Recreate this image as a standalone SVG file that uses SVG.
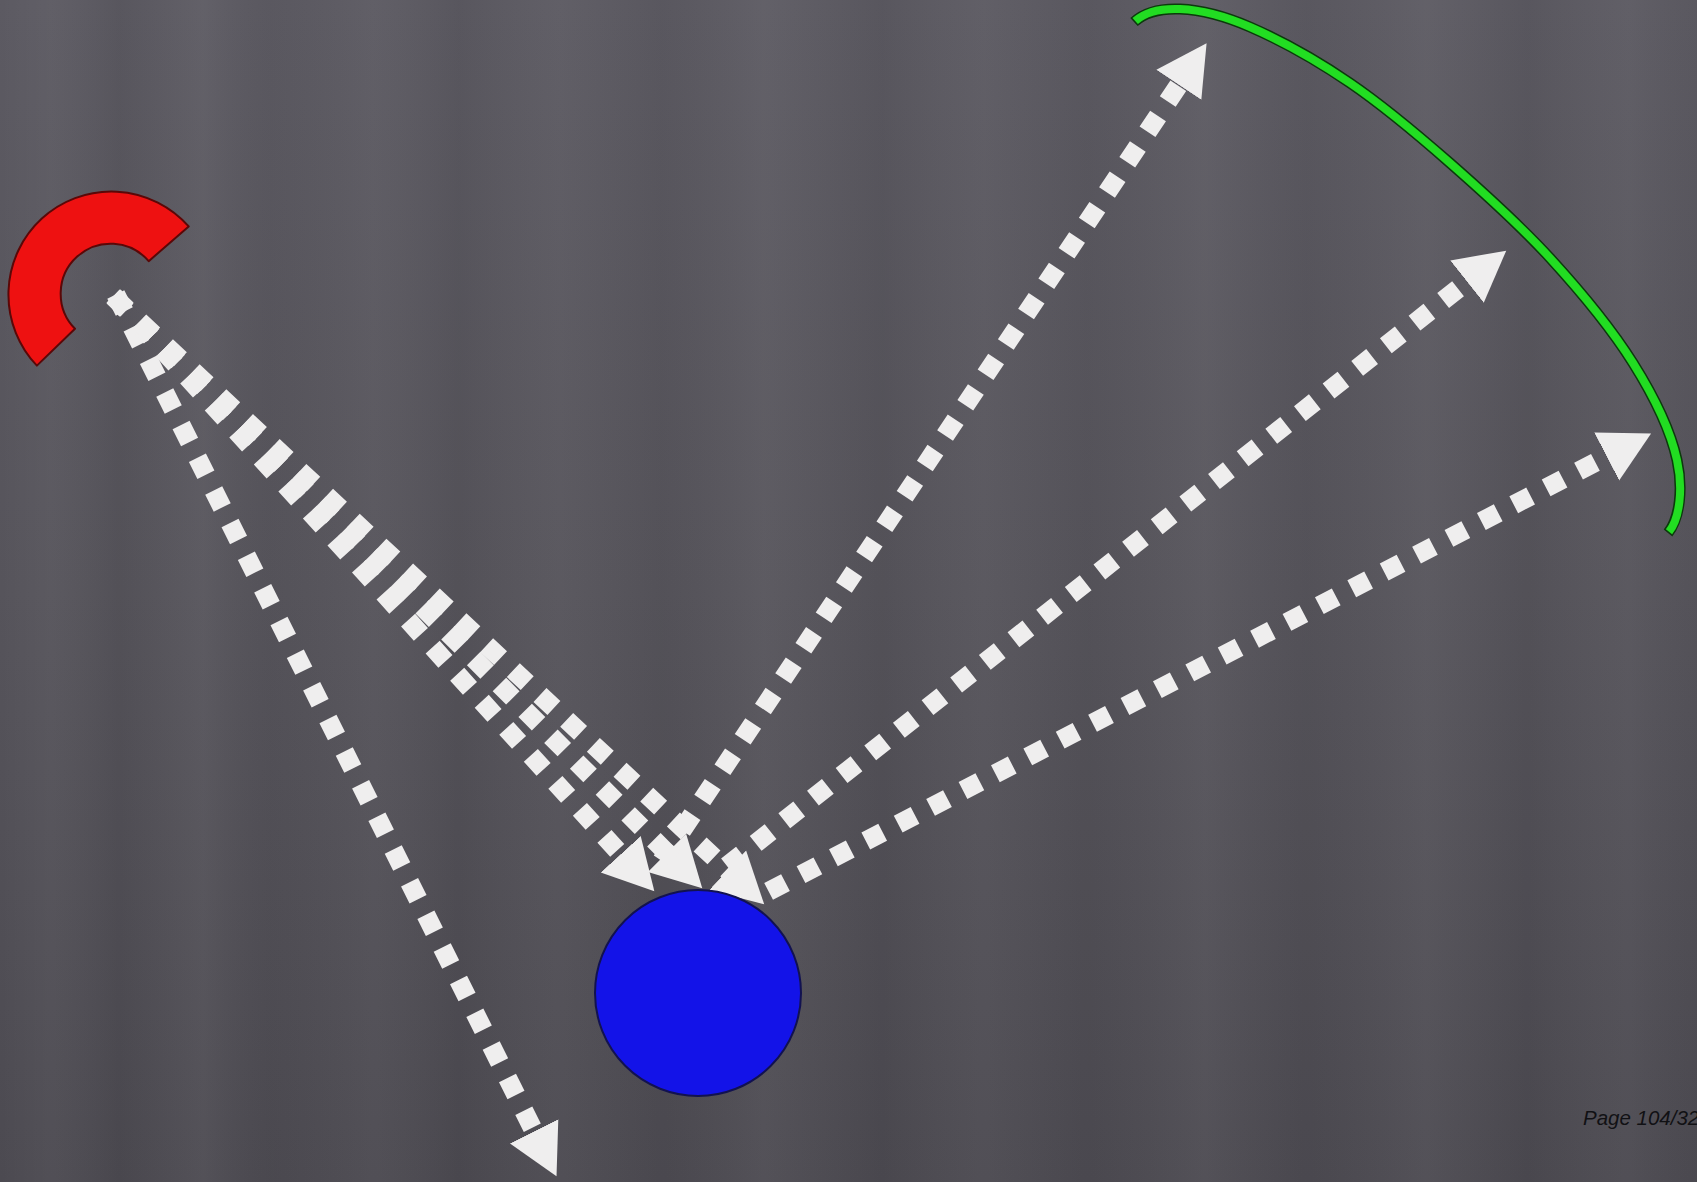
<svg xmlns="http://www.w3.org/2000/svg" width="1697" height="1182" viewBox="0 0 1697 1182">
  <defs>
    <linearGradient id="bgv" x1="0" y1="0" x2="0" y2="1">
      <stop offset="0" stop-color="#5c5a62"/>
      <stop offset="0.5" stop-color="#56545b"/>
      <stop offset="1" stop-color="#4c4a51"/>
    </linearGradient>
    <linearGradient id="streaks" x1="0" y1="0" x2="1697" y2="0" gradientUnits="userSpaceOnUse">
      <stop offset="0" stop-color="#ffffff" stop-opacity="0"/>
      <stop offset="0.03" stop-color="#ffffff" stop-opacity="0.03"/>
      <stop offset="0.07" stop-color="#000000" stop-opacity="0.04"/>
      <stop offset="0.12" stop-color="#ffffff" stop-opacity="0.04"/>
      <stop offset="0.16" stop-color="#000000" stop-opacity="0.02"/>
      <stop offset="0.22" stop-color="#ffffff" stop-opacity="0.03"/>
      <stop offset="0.27" stop-color="#000000" stop-opacity="0.04"/>
      <stop offset="0.33" stop-color="#ffffff" stop-opacity="0.03"/>
      <stop offset="0.39" stop-color="#000000" stop-opacity="0.03"/>
      <stop offset="0.45" stop-color="#ffffff" stop-opacity="0.04"/>
      <stop offset="0.52" stop-color="#000000" stop-opacity="0.04"/>
      <stop offset="0.58" stop-color="#ffffff" stop-opacity="0.03"/>
      <stop offset="0.64" stop-color="#000000" stop-opacity="0.03"/>
      <stop offset="0.71" stop-color="#ffffff" stop-opacity="0.04"/>
      <stop offset="0.77" stop-color="#000000" stop-opacity="0.03"/>
      <stop offset="0.84" stop-color="#ffffff" stop-opacity="0.04"/>
      <stop offset="0.9" stop-color="#000000" stop-opacity="0.04"/>
      <stop offset="0.96" stop-color="#ffffff" stop-opacity="0.03"/>
      <stop offset="1" stop-color="#000000" stop-opacity="0.02"/>
    </linearGradient>
    <marker id="ah" markerUnits="userSpaceOnUse" markerWidth="52" markerHeight="56" viewBox="0 0 52 56" refX="1" refY="28" orient="auto">
      <path d="M0,1 L50,28 L0,55 z" fill="#efeeee"/>
    </marker>
    <style>
      .conn { fill: none; stroke: #efeeee; stroke-width: 19; stroke-dasharray: 19 17.5; stroke-linecap: butt; marker-end: url(#ah); }
      .arc-edge { fill: none; stroke: #0c3a0c; stroke-width: 11; stroke-linecap: butt; }
      .arc-core { fill: none; stroke: #22dd22; stroke-width: 8; stroke-linecap: butt; }
      .label { font-family: "Liberation Sans", Arial, sans-serif; font-style: italic; font-size: 20.5px; fill: #111114; }
    </style>
  </defs>

  <rect x="0" y="0" width="1697" height="1182" fill="url(#bgv)"/>
  <rect x="0" y="0" width="1697" height="1182" fill="url(#streaks)"/>

  <g id="connectors">
    <path class="conn" d="M115.8,294.5 L534.6,1132.3"/>
    <path class="conn" d="M113.6,296 L621.4,855"/>
    <path class="conn" d="M113.3,296.3 L667.7,853.6"/>
    <path class="conn" d="M113.1,296.5 L728.4,870.9"/>
    <path class="conn" d="M661.7,860.8 L1179.4,84"/>
    <path class="conn" d="M727,866 L1467.8,281"/>
    <path class="conn" d="M768.6,891.4 L1607.6,456"/>
  </g>

  <g id="red-arc">
    <path d="M36.9,365.6 A103,103 0 1 1 188.7,226.4 L148.7,261.2 A50,50 0 1 0 75,328.7 Z" fill="#ee1111" stroke="#5a0808" stroke-width="2" stroke-linejoin="round"/>
  </g>

  <g id="green-arc">
    <path class="arc-edge" d="M1134,22 C1145,12 1160.7,8.2 1180,9 C1199.3,9.8 1221.7,14.7 1250,27 C1278.3,39.3 1316.7,60.3 1350,83 C1383.3,105.7 1416.7,133.8 1450,163 C1483.3,192.2 1519.5,224.7 1550,258 C1580.5,291.3 1611.8,329.3 1633,363 C1654.2,396.7 1670.8,431.8 1677,460 C1683.2,488.2 1680,518 1668,533"/>
    <path class="arc-core" d="M1135.2,21 C1145,12 1160.7,8.2 1180,9 C1199.3,9.8 1221.7,14.7 1250,27 C1278.3,39.3 1316.7,60.3 1350,83 C1383.3,105.7 1416.7,133.8 1450,163 C1483.3,192.2 1519.5,224.7 1550,258 C1580.5,291.3 1611.8,329.3 1633,363 C1654.2,396.7 1670.8,431.8 1677,460 C1683.2,488.2 1680,518 1669,531.8"/>
  </g>

  <g id="blue-circle">
    <circle cx="698" cy="993" r="103" fill="#1313e8" stroke="#121250" stroke-width="2"/>
  </g>

  <g id="page-label">
    <text class="label" x="1583" y="1125">Page 104/32</text>
  </g>
</svg>
